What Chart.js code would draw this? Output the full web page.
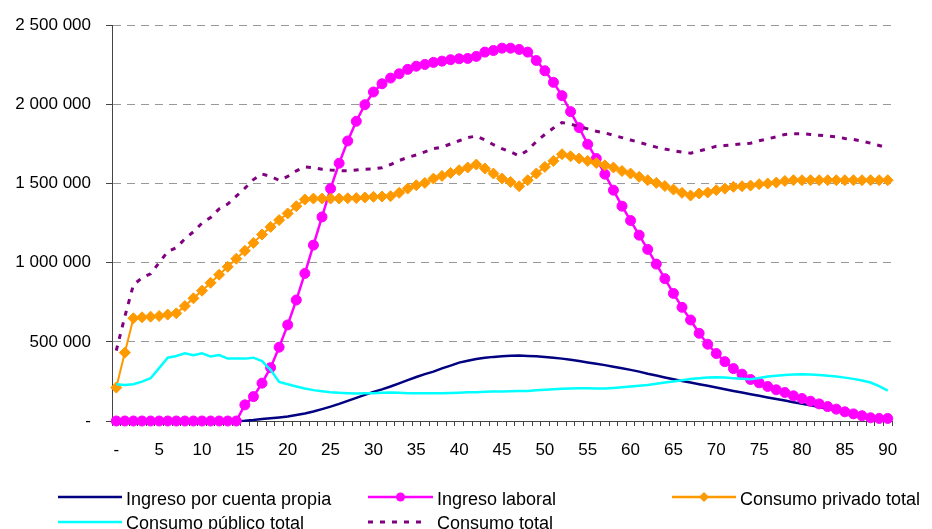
<!DOCTYPE html>
<html>
<head>
<meta charset="utf-8">
<script src="https://cdn.jsdelivr.net/npm/chart.js@4"></script>
<style>
body { margin: 0; background: #fff; }
#wrap { position: relative; width: 932px; height: 529px; overflow: hidden; font-family: "Liberation Sans", Arial, sans-serif; }
.leg-text { position: absolute; font-size: 18px; line-height: 18px; color: #000; white-space: nowrap; }
.leg-line { position: absolute; }
</style>
</head>
<body>
<div id="wrap">
  <canvas id="chart" width="932" height="529"></canvas>
</div>
<script>
// edades 0..90
var ages = [];
for (var a = 0; a <= 90; a++) ages.push(a);

var seriesNames = ["Ingreso por cuenta propia", "Ingreso laboral", "Consumo privado total", "Consumo público total", "Consumo total"];

var ingresoCuentaPropia = [0,0,0,0,0,0,0,0,0,0,0,0,0,0,0,
  2000,6000,12000,17000,22000,28000,38000,48000,60000,75000,91000,108000,127000,146000,165000,
  184000,200000,218000,238000,258000,278000,296000,312000,332000,350000,369000,381000,392000,399000,405000,
  409000,412000,413000,411000,409000,405000,400000,394000,387000,379000,370000,362000,353000,343000,333000,
  323000,312000,298000,287000,275000,264000,253000,243000,232000,222000,211000,201000,190000,180000,169000,
  159000,149000,139000,129000,119000,109000,99000,89000,79000,69000,59000,49000,39000,29000,19000,8000];

var ingresoLaboral = [0,0,0,0,0,0,0,0,0,0,0,0,0,0,0,
  102000,154000,239000,337000,466000,607000,764000,932000,1111000,1289000,1468000,1628000,1769000,1893000,1998000,
  2078000,2130000,2166000,2193000,2221000,2241000,2252000,2265000,2273000,2282000,2288000,2290000,2303000,2330000,2340000,
  2355000,2355000,2347000,2330000,2277000,2212000,2139000,2055000,1954000,1853000,1748000,1658000,1559000,1458000,1357000,
  1266000,1174000,1084000,991000,899000,806000,718000,638000,554000,485000,426000,375000,331000,296000,262000,
  241000,218000,197000,180000,159000,142000,125000,108000,91000,75000,58000,45000,33000,20000,16000,16000];

var consumoPrivado = [211000,432000,649000,655000,659000,663000,672000,680000,726000,775000,
  823000,873000,924000,974000,1025000,1075000,1125000,1178000,1226000,1269000,
  1311000,1357000,1399000,1405000,1405000,1405000,1405000,1407000,1408000,1412000,
  1416000,1418000,1420000,1441000,1468000,1489000,1504000,1531000,1548000,1567000,
  1584000,1601000,1620000,1595000,1563000,1531000,1510000,1483000,1521000,1563000,
  1605000,1643000,1685000,1672000,1658000,1643000,1630000,1615000,1601000,1579000,
  1563000,1542000,1521000,1504000,1484000,1462000,1441000,1424000,1437000,1443000,
  1458000,1468000,1479000,1483000,1487000,1496000,1500000,1506000,1516000,1521000,
  1521000,1521000,1521000,1521000,1521000,1521000,1521000,1521000,1521000,1521000,1521000];

var consumoPublico = [232000,228000,232000,249000,270000,334000,400000,411000,428000,415000,
  428000,407000,417000,394000,394000,394000,400000,378000,323000,247000,
  232000,218000,205000,195000,188000,182000,178000,176000,174000,175000,
  176000,178000,180000,178000,176000,176000,176000,176000,176000,177000,
  179000,181000,182000,184000,186000,187000,188000,189000,190000,194000,
  198000,201000,203000,205000,207000,207000,206000,205000,209000,213000,
  218000,223000,228000,235000,243000,250000,258000,265000,270000,274000,
  277000,274000,270000,267000,264000,272000,281000,286000,291000,294000,
  296000,294000,291000,286000,281000,274000,266000,256000,243000,220000,192000];

var consumoTotal = [445000,660000,860000,905000,930000,1000000,1070000,1095000,1150000,1195000,
  1250000,1285000,1340000,1370000,1420000,1470000,1525000,1560000,1545000,1520000,
  1545000,1580000,1605000,1600000,1590000,1585000,1582000,1580000,1585000,1590000,
  1592000,1600000,1620000,1645000,1665000,1680000,1700000,1720000,1730000,1750000,
  1770000,1790000,1800000,1775000,1745000,1720000,1700000,1675000,1710000,1765000,
  1810000,1850000,1885000,1875000,1860000,1845000,1830000,1820000,1805000,1790000,
  1775000,1760000,1745000,1730000,1718000,1708000,1698000,1692000,1705000,1720000,
  1735000,1740000,1745000,1750000,1755000,1770000,1782000,1795000,1810000,1815000,
  1815000,1810000,1805000,1800000,1795000,1785000,1778000,1768000,1755000,1740000,1725000];

var yTicks = [0, 500000, 1000000, 1500000, 2000000, 2500000];

var colors = ['#000080', '#FF00FF', '#FF9900', '#00FFFF', '#800080'];
var FONT = { family: '"Liberation Sans", Arial, sans-serif', size: 17 };

function fmtNum(v) {
    if (v === 0) return '-';
    return String(v).replace(/\B(?=(\d{3})+(?!\d))/g, ' ');
}

var ctx = document.getElementById('chart').getContext('2d');

var myChart = new Chart(ctx, {
    type: 'line',
    data: {
        labels: ages,
        datasets: [{
            label: seriesNames[0],
            data: ingresoCuentaPropia,
            borderColor: colors[0],
            borderWidth: 2.5,
            pointRadius: 0,
            order: 5
        }, {
            label: seriesNames[1],
            data: ingresoLaboral,
            borderColor: colors[1],
            backgroundColor: colors[1],
            borderWidth: 2.5,
            pointStyle: 'circle',
            pointRadius: 5,
            pointBorderWidth: 1,
            order: 4
        }, {
            label: seriesNames[2],
            data: consumoPrivado,
            borderColor: colors[2],
            backgroundColor: colors[2],
            borderWidth: 2,
            pointStyle: 'rectRot',
            pointRadius: 5.5,
            pointBorderWidth: 1,
            order: 3
        }, {
            label: seriesNames[3],
            data: consumoPublico,
            borderColor: colors[3],
            borderWidth: 2.5,
            pointRadius: 0,
            order: 2
        }, {
            label: seriesNames[4],
            data: consumoTotal,
            borderColor: colors[4],
            borderWidth: 3,
            borderDash: [5, 7],
            pointRadius: 0,
            order: 1
        }]
    },
    options: {
        responsive: false,
        animation: false,
        clip: false,
        layout: { padding: { top: 25, right: 40, bottom: 68, left: 0 } },
        elements: { line: { tension: 0 } },
        plugins: {
            legend: { display: false },
            tooltip: { enabled: false }
        },
        scales: {
            x: {
                offset: true,
                grid: { display: true, drawOnChartArea: false, offset: true, tickLength: 5, tickColor: '#444' },
                border: { color: '#444', width: 1 },
                ticks: {
                    autoSkip: false,
                    maxRotation: 0,
                    color: '#000',
                    font: FONT,
                    padding: 14,
                    callback: function(v, i) {
                        var age = ages[i];
                        if (age === 0) return '-';
                        return age % 5 === 0 ? String(age) : '';
                    }
                },
                afterFit: function(s) { s.height = 40; }
            },
            y: {
                min: 0,
                max: 2500000,
                afterBuildTicks: function(s) { s.ticks = yTicks.map(function(v) { return { value: v }; }); },
                grid: { color: '#999', tickColor: '#444', tickLength: 6 },
                border: { color: '#444', width: 1, dash: [8, 6] },
                ticks: { color: '#000', font: FONT, padding: 15, callback: fmtNum },
                afterFit: function(s) { s.width = 112; }
            }
        }
    }
});

// leyenda en HTML (dos filas como en el original)
var legendLayout = [
    { x: 58, text: 126, lineY: 497, top: 489.5, w: 64, marker: null, dash: null },
    { x: 368, text: 437, lineY: 497, top: 489.5, w: 65, marker: 'circle', dash: null },
    { x: 672, text: 740, lineY: 497, top: 489.5, w: 64, marker: 'diamond', dash: null },
    { x: 58, text: 126, lineY: 522, top: 514, w: 64, marker: null, dash: null },
    { x: 368, text: 437, lineY: 522, top: 514, w: 57, marker: null, dash: '5 7' }
];
var wrap = document.getElementById('wrap');
legendLayout.forEach(function(l, i) {
    var c = colors[i];
    var svg = '<svg class="leg-line" width="' + l.w + '" height="16" style="left:' + l.x + 'px;top:' + (l.lineY - 8) + 'px">';
    svg += '<line x1="0" y1="8" x2="' + l.w + '" y2="8" stroke="' + c + '" stroke-width="' + (l.dash ? 3 : 2.5) + '"' + (l.dash ? ' stroke-dasharray="' + l.dash + '"' : '') + '/>';
    var cx = l.w / 2;
    if (l.marker === 'circle') svg += '<circle cx="' + cx + '" cy="8" r="4.5" fill="' + c + '"/>';
    if (l.marker === 'diamond') svg += '<polygon points="' + (cx - 5) + ',8 ' + cx + ',3 ' + (cx + 5) + ',8 ' + cx + ',13" fill="' + c + '"/>';
    svg += '</svg>';
    wrap.insertAdjacentHTML('beforeend', svg);
    var t = document.createElement('div');
    t.className = 'leg-text';
    t.style.left = l.text + 'px';
    t.style.top = l.top + 'px';
    t.textContent = seriesNames[i];
    wrap.appendChild(t);
});
</script>
</body>
</html>
